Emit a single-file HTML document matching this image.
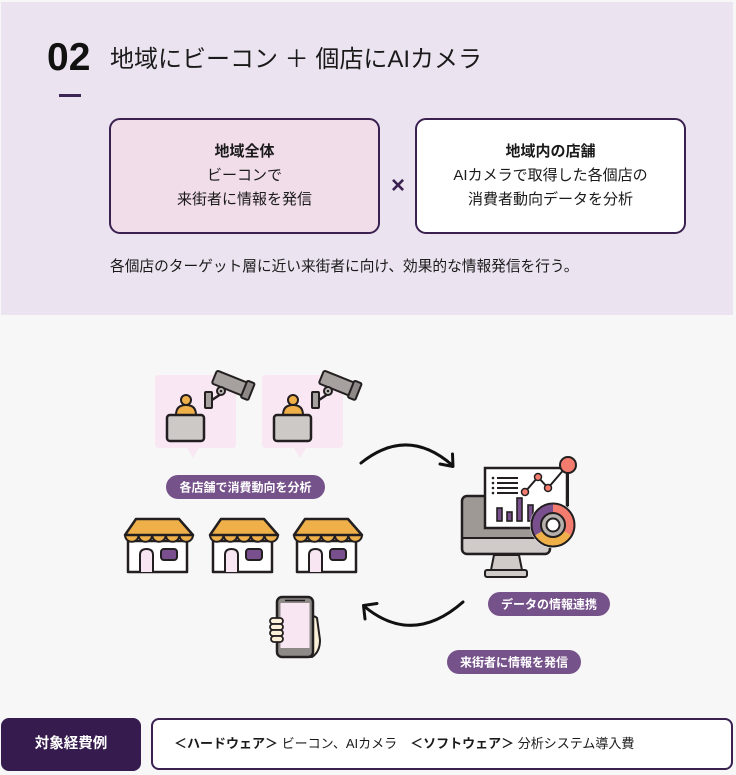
<!DOCTYPE html>
<html lang="ja">
<head>
<meta charset="utf-8">
<style>
  html,body{margin:0;padding:0;}
  body{width:736px;height:775px;background:#f7f7f7;position:relative;overflow:hidden;
    font-family:"Liberation Sans","Noto Sans CJK JP",sans-serif;color:#1a1a1a;}
  .abs{position:absolute;}
  .top{left:1px;top:2px;width:732px;height:313px;background:#ece3f0;}
  .num{left:47px;top:38px;font-size:39px;line-height:39px;font-weight:bold;color:#111;}
  .title{left:110px;top:45px;font-size:24px;line-height:30px;color:#1a1a1a;white-space:nowrap;}
  .dash{left:59px;top:94px;width:22px;height:3px;background:#3d2456;}
  .box{top:118px;width:271px;height:116px;box-sizing:border-box;border:2px solid #3a2150;border-radius:11px;
    text-align:center;padding-top:20px;font-size:15px;line-height:24px;color:#1a1a1a;}
  .box b{font-weight:bold;}
  .lbox{left:109px;background:#f1dcea;}
  .rbox{left:415px;background:#fff;}
  .x{left:388px;top:172px;width:20px;text-align:center;font-size:24px;line-height:28px;font-weight:bold;color:#3a2150;}
  .sent{left:110px;top:255px;font-size:14.7px;line-height:24px;white-space:nowrap;}
  .dark{left:1px;top:718px;width:140px;height:53px;background:#361c4e;border-radius:8px;color:#fff;
    font-weight:bold;font-size:14.5px;line-height:53px;text-align:center;}
  .wbox{left:151px;top:718px;width:582px;height:52px;box-sizing:border-box;border:2px solid #3a2150;border-radius:8px;
    background:#fff;font-size:13px;line-height:48px;padding-left:21px;white-space:nowrap;}
  svg{position:absolute;left:0;top:0;}
  .pill{font-family:"Liberation Sans","Noto Sans CJK JP",sans-serif;font-size:12px;font-weight:bold;fill:#fff;}
</style>
</head>
<body>
<div class="abs top"></div>
<div class="abs num">02</div>
<div class="abs title">地域にビーコン ＋ 個店にAIカメラ</div>
<div class="abs dash"></div>
<div class="abs box lbox"><b>地域全体</b><br>ビーコンで<br>来街者に情報を発信</div>
<div class="abs x">×</div>
<div class="abs box rbox"><b>地域内の店舗</b><br>AIカメラで取得した各個店の<br>消費者動向データを分析</div>
<div class="abs sent">各個店のターゲット層に近い来街者に向け、効果的な情報発信を行う。</div>

<svg width="736" height="775" viewBox="0 0 736 775" xmlns="http://www.w3.org/2000/svg">
  <defs>
    <g id="bubble">
      <path d="M159 375 H232 Q236 375 236 379 V444 Q236 448 232 448 H199 L193 458 L187 448 H159 Q155 448 155 444 V379 Q155 375 159 375 Z" fill="#f9e7f3"/>
      <path d="M176 415 Q176 405 186 405 Q196 405 196 415 Z" fill="#efb04a" stroke="#231f20" stroke-width="2"/>
      <circle cx="186" cy="400" r="5" fill="#efb04a" stroke="#231f20" stroke-width="2"/>
      <rect x="167" y="415" width="37" height="26" rx="3" fill="#cdc9c7" stroke="#231f20" stroke-width="2.5"/>
      <rect x="205" y="392" width="7" height="16" rx="1" fill="#a6a19e" stroke="#231f20" stroke-width="2"/>
      <path d="M212 400 L221 394" stroke="#231f20" stroke-width="2.5" fill="none"/>
      <g transform="rotate(22 232 384)">
        <rect x="213" y="377" width="38" height="14" rx="2" fill="#a6a19e" stroke="#231f20" stroke-width="2"/>
        <rect x="245" y="375" width="8" height="18" rx="1.5" fill="#8e8986" stroke="#231f20" stroke-width="2"/>
      </g>
      <circle cx="221" cy="391" r="4" fill="#c4c0bd" stroke="#231f20" stroke-width="2"/>
      <circle cx="221" cy="391" r="1.3" fill="#231f20"/>
    </g>
    <g id="store">
      <path d="M128 541 V572 H187 V541 Z" fill="#fff" stroke="#231f20" stroke-width="2.5" stroke-linejoin="round"/>
      <path d="M125 535 a6.8 6.8 0 0 0 13.6 0 a6.8 6.8 0 0 0 13.6 0 a6.8 6.8 0 0 0 13.6 0 a6.8 6.8 0 0 0 13.6 0 a6.8 6.8 0 0 0 13.6 0 Z" fill="#efb04a" stroke="#231f20" stroke-width="2" stroke-linejoin="round"/>
      <path d="M136 519 H179 L193 535 H125 Z" fill="#efb04a" stroke="#231f20" stroke-width="2.5" stroke-linejoin="round"/>
      <path d="M140 572 V555 Q140 549 146.5 549 Q153 549 153 555 V572" fill="#f8e6f3" stroke="#231f20" stroke-width="2"/>
      <rect x="161" y="549" width="16" height="11" rx="3" fill="#7a4f8e" stroke="#231f20" stroke-width="2"/>
    </g>
  </defs>

  <use href="#bubble"/>
  <use href="#bubble" transform="translate(107 0)"/>

  <rect x="166" y="475" width="159" height="24" rx="12" fill="#76528a"/>
  <text class="pill" x="245.5" y="487.5" text-anchor="middle" dominant-baseline="central">各店舗で消費動向を分析</text>

  <use href="#store"/>
  <use href="#store" transform="translate(85 0)"/>
  <use href="#store" transform="translate(169 0)"/>

  <!-- phone -->
  <path d="M309 620 Q313 614 317 618 L320 640 Q320 652 312 657 H305 Z" fill="#fbf0d8" stroke="#231f20" stroke-width="2"/>
  <rect x="277" y="597" width="36" height="60" rx="5" fill="#8e8a88" stroke="#231f20" stroke-width="2.5"/>
  <rect x="280.5" y="603" width="29" height="45" fill="#f8e6f3"/>
  <line x1="285" y1="600.5" x2="305" y2="600.5" stroke="#231f20" stroke-width="1.5"/>
  <rect x="270" y="618" width="13" height="6" rx="3" fill="#fbf0d8" stroke="#231f20" stroke-width="1.8"/>
  <rect x="270" y="624" width="13" height="6" rx="3" fill="#fbf0d8" stroke="#231f20" stroke-width="1.8"/>
  <rect x="270" y="630" width="13" height="6" rx="3" fill="#fbf0d8" stroke="#231f20" stroke-width="1.8"/>
  <rect x="271" y="636" width="12" height="6" rx="3" fill="#fbf0d8" stroke="#231f20" stroke-width="1.8"/>

  <!-- monitor -->
  <rect x="462" y="496" width="88" height="58" rx="5" fill="#9f9995" stroke="#231f20" stroke-width="2.5"/>
  <rect x="463.5" y="538" width="85" height="14.5" rx="3" fill="#d0cbc9"/>
  <line x1="463" y1="538" x2="549" y2="538" stroke="#231f20" stroke-width="2"/>
  <path d="M494 555 L491 570 H522 L519 555 Z" fill="#d0cbc9" stroke="#231f20" stroke-width="2" stroke-linejoin="round"/>
  <rect x="485" y="570" width="42" height="7" rx="2" fill="#d0cbc9" stroke="#231f20" stroke-width="2"/>
  <rect x="485" y="468" width="82" height="60" fill="#fff" stroke="#231f20" stroke-width="2.5"/>
  <g fill="#231f20">
    <circle cx="493" cy="478" r="1.3"/><circle cx="493" cy="483" r="1.3"/>
    <circle cx="493" cy="488" r="1.3"/><circle cx="493" cy="493" r="1.3"/>
  </g>
  <g stroke="#231f20" stroke-width="2">
    <line x1="497" y1="478" x2="518" y2="478"/><line x1="497" y1="483" x2="518" y2="483"/>
    <line x1="497" y1="488" x2="518" y2="488"/><line x1="497" y1="493" x2="518" y2="493"/>
  </g>
  <g fill="#7a4f8e" stroke="#231f20" stroke-width="1.6">
    <rect x="497" y="508" width="5" height="13"/>
    <rect x="507" y="512" width="5" height="9"/>
    <rect x="517" y="498" width="5" height="23"/>
    <rect x="528" y="505" width="5" height="16"/>
  </g>
  <polyline points="525,492 538,477 548,488 566,467" fill="none" stroke="#231f20" stroke-width="2"/>
  <line x1="568" y1="473" x2="568" y2="506" stroke="#231f20" stroke-width="2"/>
  <g fill="#f47c6e" stroke="#231f20" stroke-width="1.5">
    <circle cx="525" cy="492" r="3.5"/><circle cx="538" cy="477" r="3.5"/><circle cx="548" cy="488" r="3.5"/>
  </g>
  <circle cx="568" cy="465" r="8" fill="#f47c6e" stroke="#231f20" stroke-width="2"/>
  <!-- donut -->
  <circle cx="553" cy="525" r="23" fill="#fff"/>
  <path d="M553 508 A17 17 0 0 1 567.72 533.5" fill="none" stroke="#f47c6e" stroke-width="9"/>
  <path d="M567.72 533.5 A17 17 0 0 1 538.28 533.5" fill="none" stroke="#efb04a" stroke-width="9"/>
  <path d="M538.28 533.5 A17 17 0 0 1 553 508" fill="none" stroke="#7a4f8e" stroke-width="9"/>
  <circle cx="553" cy="525" r="21.5" fill="none" stroke="#231f20" stroke-width="2"/>
  <circle cx="553" cy="525" r="12" fill="#b5b0ad" stroke="#231f20" stroke-width="2"/>
  <circle cx="553" cy="525" r="6.5" fill="#fff" stroke="#231f20" stroke-width="2"/>

  <!-- arrows -->
  <path d="M361 463 Q407 426 452 465" fill="none" stroke="#111" stroke-width="3" stroke-linecap="round"/>
  <polyline points="440,464 453,466.5 452.5,454" fill="none" stroke="#111" stroke-width="3" stroke-linecap="round" stroke-linejoin="round"/>
  <path d="M463 602 Q413 646 365 607" fill="none" stroke="#111" stroke-width="3" stroke-linecap="round"/>
  <polyline points="377,603.5 363.5,605.5 365,619" fill="none" stroke="#111" stroke-width="3" stroke-linecap="round" stroke-linejoin="round"/>

  <rect x="488" y="592" width="122" height="24" rx="12" fill="#76528a"/>
  <text class="pill" x="549" y="604.5" text-anchor="middle" dominant-baseline="central">データの情報連携</text>
  <rect x="447" y="650" width="134" height="24" rx="12" fill="#76528a"/>
  <text class="pill" x="514" y="662.5" text-anchor="middle" dominant-baseline="central">来街者に情報を発信</text>
</svg>

<div class="abs dark">対象経費例</div>
<div class="abs wbox"><b>＜ハードウェア＞</b> ビーコン、AIカメラ　<b>＜ソフトウェア＞</b> 分析システム導入費</div>
</body>
</html>
